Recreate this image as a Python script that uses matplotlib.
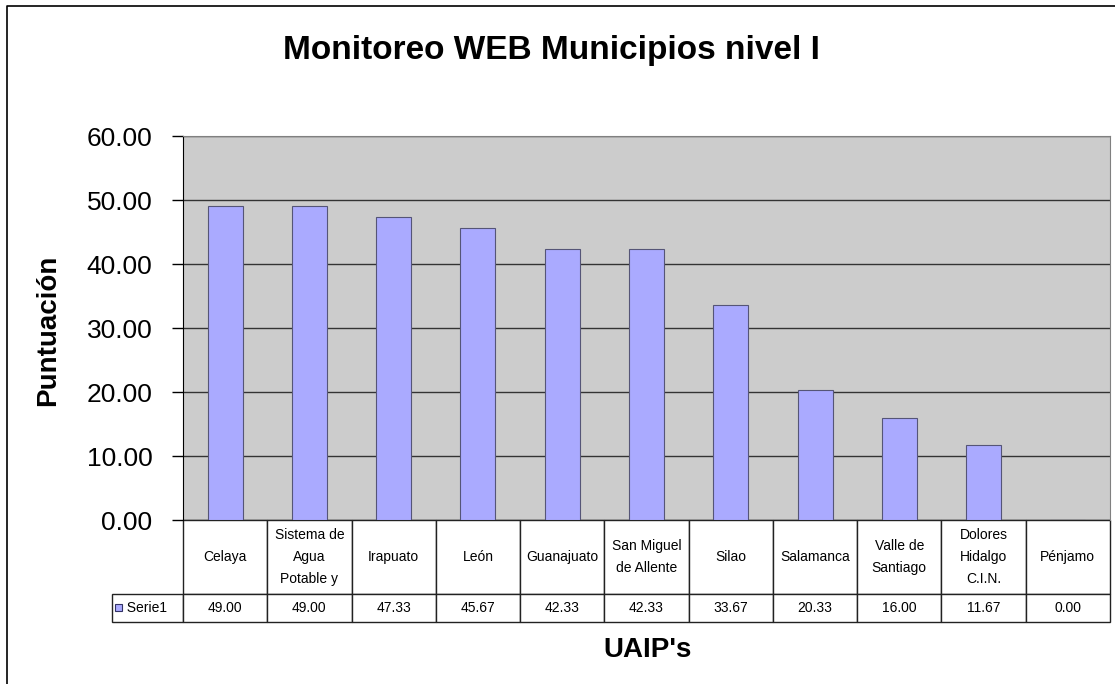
import matplotlib.pyplot as plt
from matplotlib.table import Table
from matplotlib.patches import Rectangle
from matplotlib.lines import Line2D

plt.rcParams['font.family'] = ['Liberation Sans', 'DejaVu Sans']

# datos
municipios = ["Celaya", "Sistema de\nAgua\nPotable y", "Irapuato", "León", "Guanajuato",
              "San Miguel\nde Allente", "Silao", "Salamanca", "Valle de\nSantiago",
              "Dolores\nHidalgo\nC.I.N.", "Pénjamo"]
puntos = [49.00, 49.00, 47.33, 45.67, 42.33, 42.33, 33.67, 20.33, 16.00, 11.67, 0.00]
serie = "Serie1"
yticks = [0, 10, 20, 30, 40, 50, 60]

W, H = 1115, 684
fig = plt.figure(figsize=(W / 100, H / 100), dpi=100)

# area del grafico (en pixeles de la imagen)
x0, x1, ytop, ybot = 183, 1110, 136, 520
ax = fig.add_axes([x0 / W, 1 - ybot / H, (x1 - x0) / W, (ybot - ytop) / H])
ax.set_facecolor("#cccccc")

n = len(puntos)
ax.bar(range(n), puntos, width=0.415, color="#aaaaff", edgecolor="#555577", linewidth=0.8, zorder=3)
ax.set_xlim(-0.5, n - 0.5)
ax.set_ylim(0, 60)
ax.set_yticks(yticks)
ax.set_yticklabels([f"{v:.2f}" for v in yticks], fontsize=19)
ax.yaxis.grid(True, color="#333333", linewidth=1.0, zorder=1)
ax.set_axisbelow(True)
ax.tick_params(axis="y", direction="out", length=8, width=1, pad=14)
ax.set_xticks([])
ax.spines["left"].set_color("black")
ax.spines["top"].set_color("#808080")
ax.spines["right"].set_color("#808080")
ax.spines["bottom"].set_visible(False)

# tabla de datos debajo (el bbox cubre solo las columnas de datos)
ancho_lbl = 71 / (x1 - x0)
h_cat = 74 / (ybot - ytop)
h_val = 28 / (ybot - ytop)
tabla = Table(ax, bbox=[0, -(h_cat + h_val), 1, h_cat + h_val])
for i, m in enumerate(municipios):
    c = tabla.add_cell(0, i, width=1 / n, height=h_cat, text=m, loc="center")
    c.get_text().set_linespacing(1.7)
    tabla.add_cell(1, i, width=1 / n, height=h_val, text=f"{puntos[i]:.2f}", loc="center")
tabla.add_cell(1, -1, width=ancho_lbl, height=h_val, text="  " + serie, loc="left")
tabla.auto_set_font_size(False)
tabla.set_fontsize(10)
for cell in tabla.get_celld().values():
    cell.set_edgecolor("#222222")
    cell.set_linewidth(1.0)
ax.add_table(tabla)

# cuadrito de la leyenda
ax.add_patch(Rectangle((-(183 - 115) / (x1 - x0), -(611 - ybot) / (ybot - ytop)),
                       7 / (x1 - x0), 7 / (ybot - ytop), transform=ax.transAxes,
                       facecolor="#aaaaff", edgecolor="#333366", linewidth=0.8,
                       clip_on=False, zorder=5))

# textos
fig.text(551 / W, 1 - 50 / H, "Monitoreo WEB Municipios nivel I", fontsize=24,
         fontweight="bold", ha="center", va="center")
fig.text(48 / W, 1 - 330 / H, "Puntuación", fontsize=20, fontweight="bold",
         rotation=90, ha="center", va="center")
fig.text(648 / W, 1 - 650 / H, "UAIP's", fontsize=20, fontweight="bold",
         ha="center", va="center")

# marco exterior
fig.add_artist(Line2D([7 / W, 7 / W, 1.0], [0.0, 1 - 6 / H, 1 - 6 / H],
                      transform=fig.transFigure, color="black", linewidth=1.2))

fig.savefig("out.png", dpi=100)
